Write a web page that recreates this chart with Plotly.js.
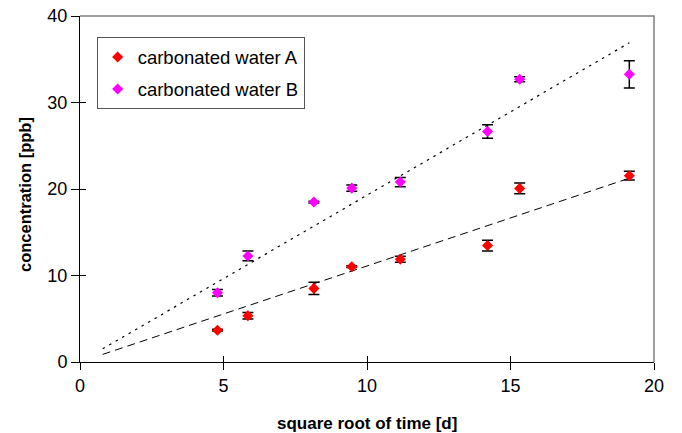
<!DOCTYPE html>
<html>
<head>
<meta charset="utf-8">
<script src="https://cdn.plot.ly/plotly-3.0.1.min.js"></script>
<style>
  html, body { margin: 0; padding: 0; background: #ffffff; }
  #chart { width: 682px; height: 433px; }
</style>
</head>
<body>
<div id="chart"></div>
<script>
// ---- data ----
var sqrtTime = [4.79, 5.85, 8.15, 9.47, 11.16, 14.2, 15.32, 19.14];
var concA    = [3.68, 5.34, 8.51, 11.02, 11.88, 13.46, 20.07, 21.54];
var errA     = [0.1, 0.37, 0.7, 0.1, 0.35, 0.62, 0.62, 0.5];
var concB    = [8.0, 12.26, 18.49, 20.1, 20.8, 26.65, 32.68, 33.26];
var errB     = [0.38, 0.56, 0.1, 0.35, 0.54, 0.77, 0.29, 1.58];
var seriesNames = ['carbonated water A', 'carbonated water B'];
var xTicks = [0, 5, 10, 15, 20];
var yTicks = [0, 10, 20, 30, 40];
var backwardForecast = 4;

// linear trend line through the origin (least squares), like the spreadsheet trendline
function trend(xs, ys) {
  var sxy = 0, sxx = 0;
  for (var i = 0; i < xs.length; i++) { sxy += xs[i] * ys[i]; sxx += xs[i] * xs[i]; }
  var k = sxy / sxx;
  var x0 = Math.min.apply(null, xs) - backwardForecast;
  var x1 = Math.max.apply(null, xs);
  return { x: [x0, x1], y: [k * x0, k * x1] };
}
var tA = trend(sqrtTime, concA);
var tB = trend(sqrtTime, concB);

var FONT = 'Liberation Sans, Arial, Helvetica, sans-serif';

var traces = [
  { x: tA.x, y: tA.y, mode: 'lines', line: { color: '#000000', width: 1, dash: '8px,5px' },
    showlegend: false, hoverinfo: 'skip' },
  { x: tB.x, y: tB.y, mode: 'lines', line: { color: '#000000', width: 1.2, dash: '2.5px,5px' },
    showlegend: false, hoverinfo: 'skip' },
  { x: sqrtTime, y: concA, name: seriesNames[0], mode: 'markers', legendgroup: 'a',
    marker: { symbol: 'diamond', size: 8.5, color: '#FF0000' },
    error_y: { type: 'data', array: errA, visible: true, color: '#000000', thickness: 1.5, width: 5.5 } },
  { x: sqrtTime, y: concB, name: seriesNames[1], mode: 'markers', legendgroup: 'b',
    marker: { symbol: 'diamond', size: 8.5, color: '#FF00FF' },
    error_y: { type: 'data', array: errB, visible: true, color: '#000000', thickness: 1.5, width: 5.5 } },
  { x: [], y: [], xaxis: 'x2', yaxis: 'y2', showlegend: false, hoverinfo: 'skip' }
];

var layout = {
  width: 682, height: 433,
  margin: { l: 80, r: 28, t: 16, b: 71, pad: 0 },
  paper_bgcolor: '#ffffff', plot_bgcolor: '#ffffff',
  font: { family: FONT, size: 18, color: '#000000' },
  showlegend: true,
  legend: {
    x: 0.029, y: 0.938, xanchor: 'left', yanchor: 'top',
    bgcolor: '#ffffff', bordercolor: '#555555', borderwidth: 1,
    font: { family: FONT, size: 18.5, color: '#000000' },
    traceorder: 'grouped', tracegroupgap: 5, itemwidth: 30
  },
  xaxis: {
    range: [0, 20], tickvals: xTicks, ticktext: xTicks.map(String),
    ticks: 'outside', ticklen: 7, tickwidth: 1, tickcolor: '#000000',
    showline: true, linecolor: '#000000', linewidth: 1,
    showgrid: false, zeroline: false, fixedrange: true,
    tickfont: { family: FONT, size: 18, color: '#000000' }
  },
  yaxis: {
    range: [0, 40], tickvals: yTicks, ticktext: yTicks.map(String),
    ticks: 'outside', ticklen: 8, tickwidth: 1, tickcolor: '#000000',
    showline: true, linecolor: '#000000', linewidth: 1,
    showgrid: false, zeroline: false, fixedrange: true,
    tickfont: { family: FONT, size: 18, color: '#000000' }
  },
  xaxis2: {
    overlaying: 'x', anchor: 'y', side: 'bottom', range: [0, 20], tickvals: xTicks,
    ticks: 'inside', ticklen: 6, tickwidth: 1, tickcolor: '#000000',
    showticklabels: false, showline: false, showgrid: false, zeroline: false
  },
  yaxis2: {
    overlaying: 'y', anchor: 'x', side: 'left', range: [0, 40], tickvals: yTicks,
    ticks: 'inside', ticklen: 6, tickwidth: 1, tickcolor: '#000000',
    showticklabels: false, showline: false, showgrid: false, zeroline: false
  },
  shapes: [
    { type: 'path', xref: 'paper', yref: 'paper', path: 'M 0,1 L 1,1 L 1,0',
      line: { color: '#808080', width: 1.5 }, layer: 'below' }
  ],
  annotations: [
    { text: '<b>square root of time [d]</b>', xref: 'paper', yref: 'paper',
      x: 0.5, y: -0.179, xanchor: 'center', yanchor: 'middle', showarrow: false,
      font: { family: FONT, size: 17, color: '#000000' } },
    { text: '<b>concentration [ppb]</b>', xref: 'paper', yref: 'paper',
      x: -0.0958, y: 0.4827, xanchor: 'center', yanchor: 'middle', textangle: -90, showarrow: false,
      font: { family: FONT, size: 16.5, color: '#000000' } }
  ]
};

Plotly.newPlot('chart', traces, layout, { displayModeBar: false, staticPlot: true });
</script>
</body>
</html>
